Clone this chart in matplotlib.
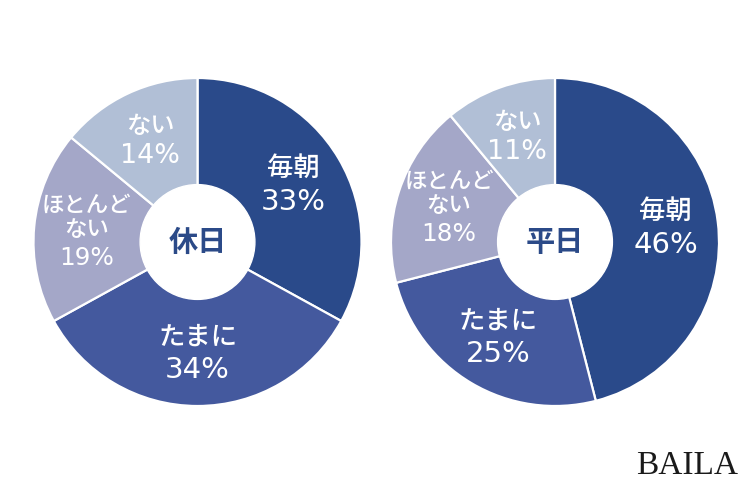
import numpy as np
import matplotlib
matplotlib.use("Agg")
import matplotlib.pyplot as plt

plt.rcParams['font.family'] = ['Noto Sans CJK JP', 'DejaVu Sans']

categories_holiday = ["毎朝", "たまに", "ほとんど\nない", "ない"]
values_holiday = [33, 34, 19, 14]
categories_weekday = ["毎朝", "たまに", "ほとんど\nない", "ない"]
values_weekday = [46, 25, 18, 11]
center_labels = ["休日", "平日"]
colors = ["#2a4a8a", "#44599e", "#a4a7c8", "#b1bfd6"]
label_scale = {"毎朝": 1.0, "たまに": 1.0, "ほとんど\nない": 0.85, "ない": 0.92}

W, H = 750, 486
fig = plt.figure(figsize=(W / 100, H / 100), dpi=100)
fig.patch.set_facecolor("white")

R = 164
hole = 0.35
centers = [(197.5, 242), (555, 242)]
PX = 72 / 100  # points per pixel


def draw(center, cats, vals, title):
    cx, cy = center
    ax = fig.add_axes([(cx - R) / W, (H - cy - R) / H, 2 * R / W, 2 * R / H])
    ax.pie(vals, colors=colors, startangle=90, counterclock=False, radius=1.0,
           wedgeprops=dict(edgecolor="white", linewidth=1.6))
    ax.add_patch(plt.Circle((0, 0), hole, color="white", zorder=5))
    ax.text(0, 0, title, ha="center", va="center", fontsize=21,
            fontweight="bold", color="#2b4a88", zorder=6)
    total = sum(vals)
    cum = 0
    for cat, v in zip(cats, vals):
        mid = (cum + v / 2) / total
        cum += v
        ang = np.deg2rad(90 - 360 * mid)
        r = 0.68
        x, y = r * np.cos(ang), r * np.sin(ang)
        s = label_scale[cat]
        names = cat.split("\n")
        offs = [i * 28 * s for i in range(len(names))]
        pct_off = offs[-1] + 32 * s + 1
        mid_off = (offs[0] + pct_off) / 2
        for nm, o in zip(names, offs):
            ax.annotate(nm, (x, y), xytext=(0, -(o - mid_off) * PX),
                        textcoords="offset points", ha="center", va="center",
                        fontsize=19 * s, fontweight="medium", color="white", zorder=6)
        ax.annotate(f"{v}%", (x, y), xytext=(0, -(pct_off - mid_off) * PX),
                    textcoords="offset points", ha="center", va="center",
                    fontsize=21 * s, color="white", family=["DejaVu Sans"], zorder=6)
    ax.set_xlim(-1, 1)
    ax.set_ylim(-1, 1)
    ax.set_aspect("equal")
    ax.axis("off")


draw(centers[0], categories_holiday, values_holiday, center_labels[0])
draw(centers[1], categories_weekday, values_weekday, center_labels[1])

fig.text(738 / W, (H - 474) / H, "BAILA", ha="right", va="baseline",
         fontsize=24, family="Liberation Serif", color="#1a1a1a")

fig.savefig("out.png", dpi=100, facecolor="white")
